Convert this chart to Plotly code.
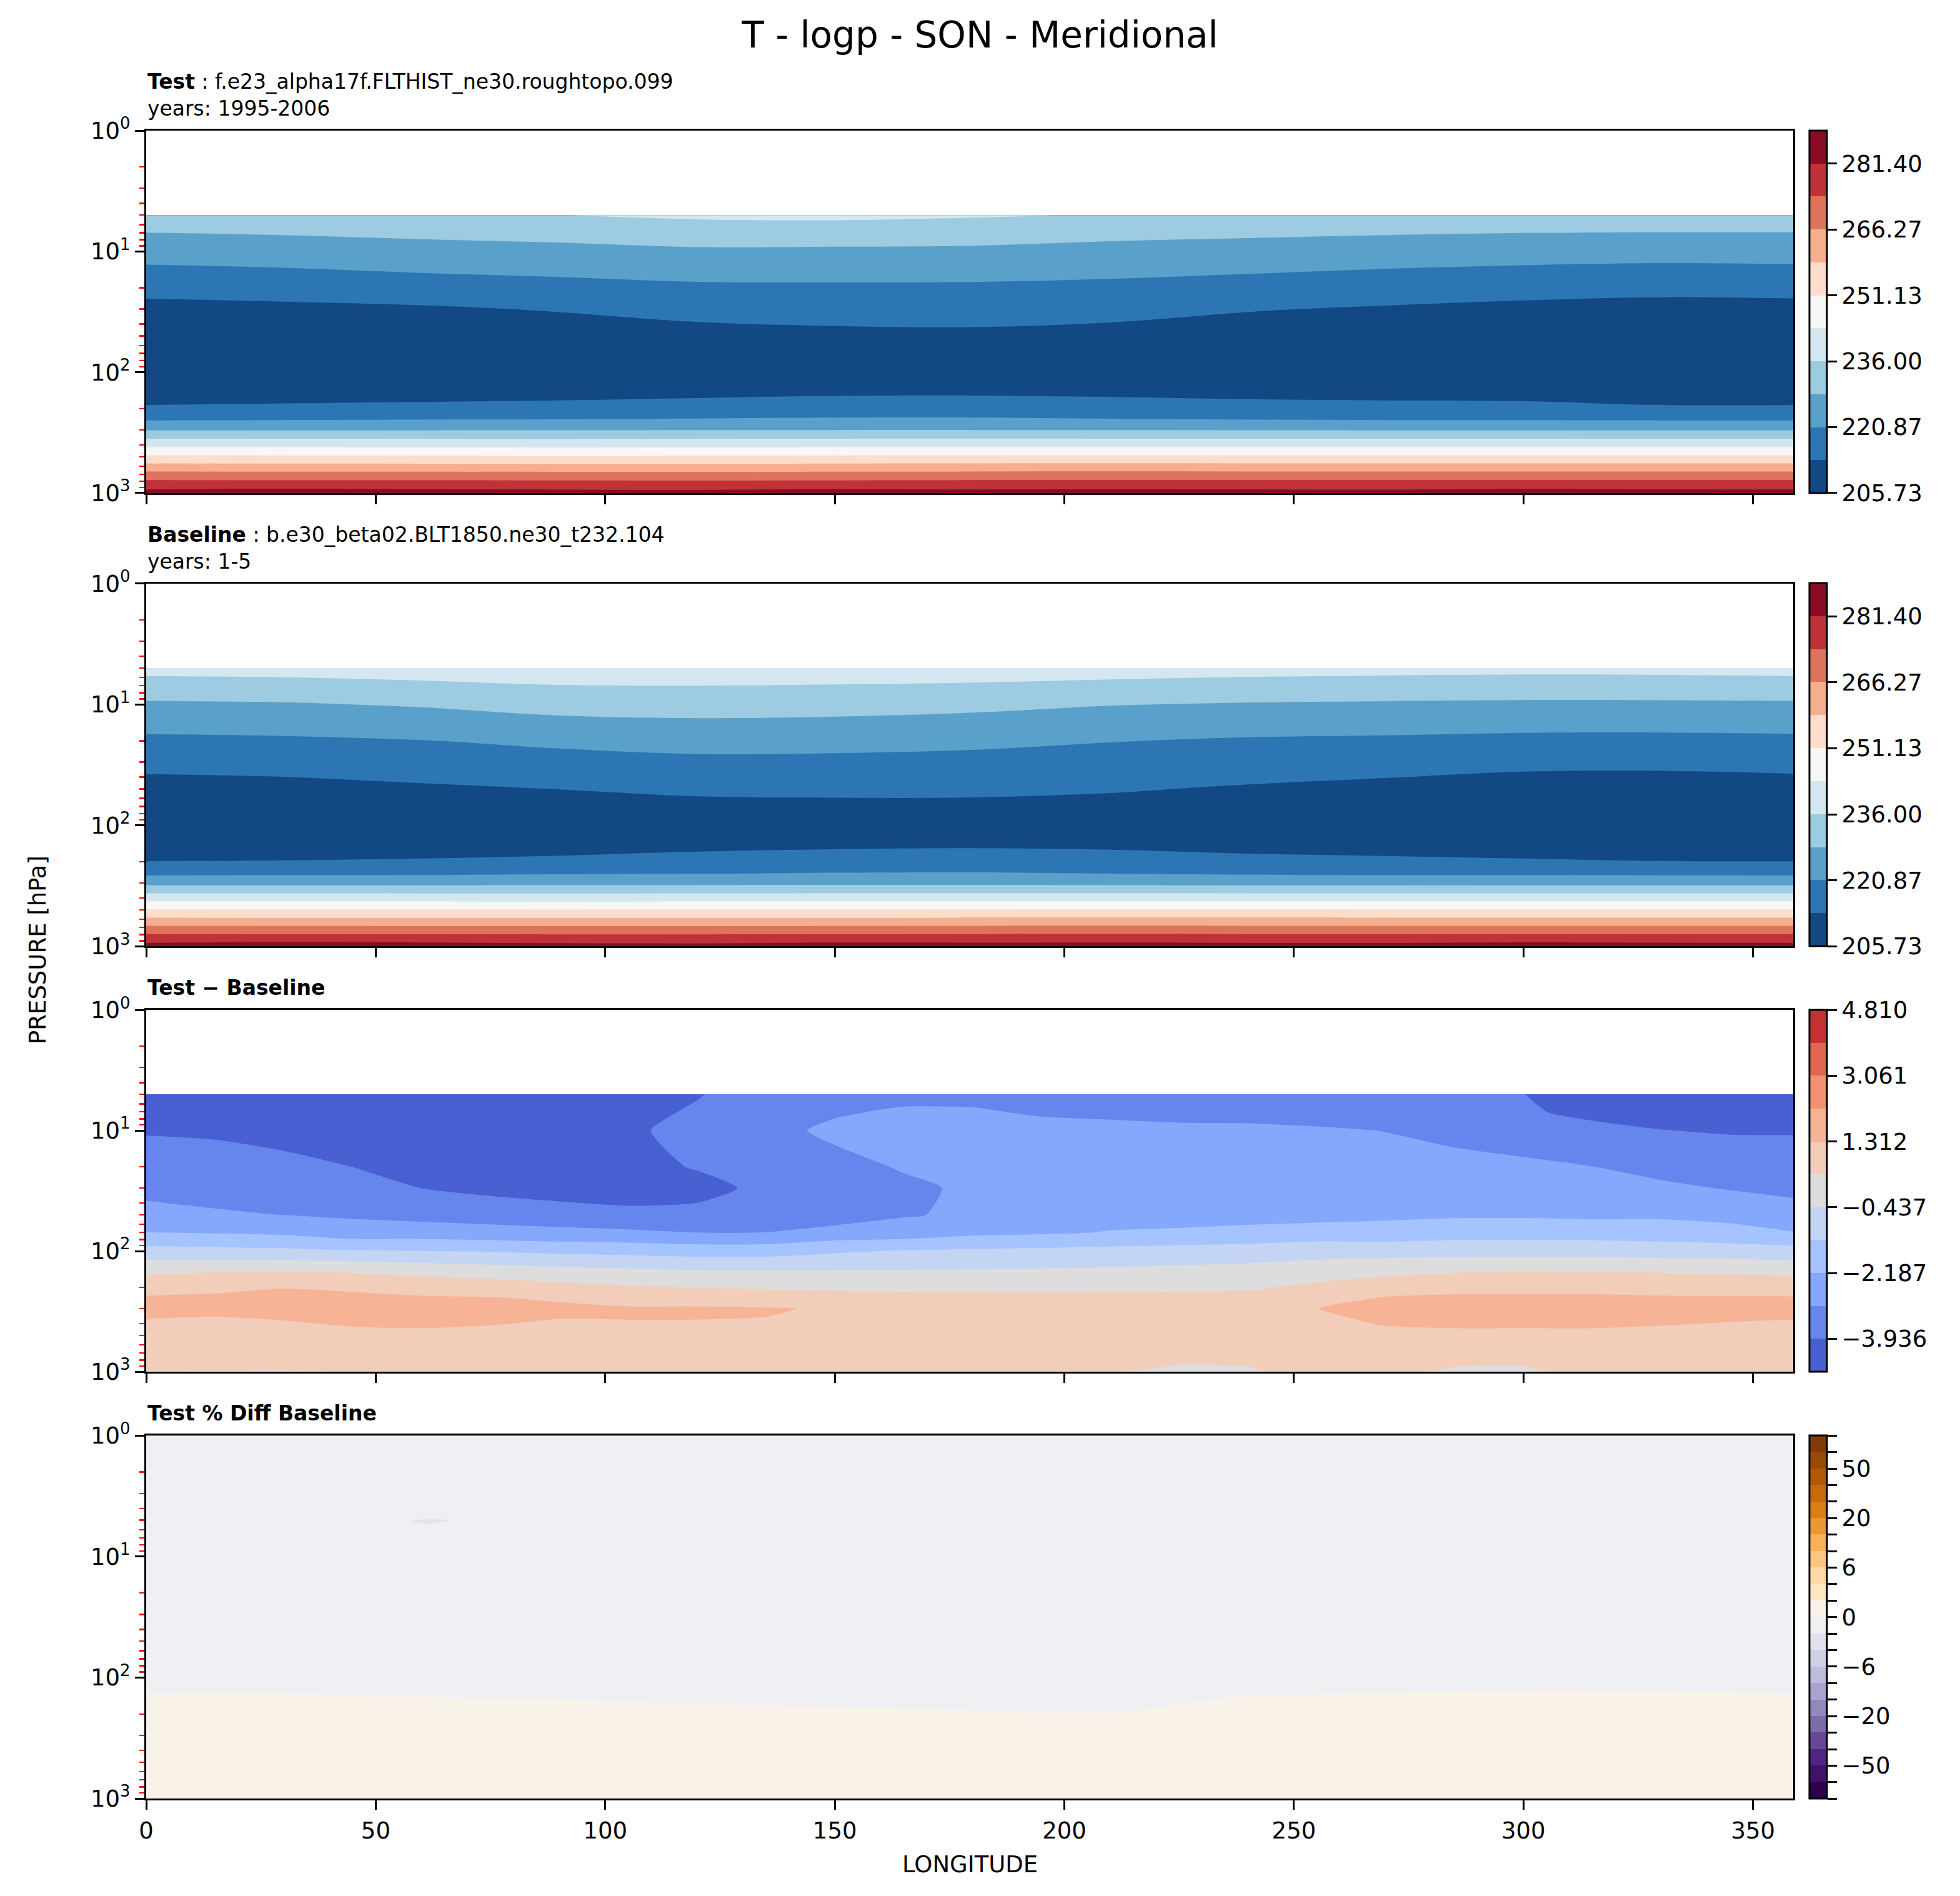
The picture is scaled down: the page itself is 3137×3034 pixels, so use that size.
import numpy as np
import plotly.graph_objects as go

# pressure levels [hPa] and longitudes [deg E]
plev = [5, 7, 10, 20, 30, 50, 70, 100, 150, 200, 250, 300, 400, 500, 600, 700, 850, 925, 1000]
pct_plev = [1] + plev
lon = [0, 30, 60, 90, 120, 150, 180, 210, 240, 270, 300, 330, 358.75]
lon_diff = [0, 15, 30, 45, 60, 75, 90, 105, 120, 135, 150, 165, 180,
            195, 210, 225, 240, 255, 270, 285, 300, 315, 330, 345, 358.75]

# Test T [K], one row per pressure level
test_T = [
    [232.7, 233.1, 233.8, 235.9, 237.2, 237.5, 236.75, 235.5, 233.5, 233.1, 232.9, 232.8, 232.8],
    [228.4, 229.0, 229.9, 230.6, 232.2, 232.4, 231.7, 230.2, 229.6, 229.0, 228.5, 228.3, 228.3],
    [223.8, 224.6, 225.7, 226.5, 227.3, 227.1, 227.0, 226.3, 225.5, 224.6, 223.9, 223.5, 223.7],
    [215.7, 216.3, 217.5, 218.5, 219.6, 219.8, 219.7, 219.1, 218.0, 216.8, 215.9, 215.3, 215.6],
    [211.0, 211.7, 212.4, 213.8, 215.7, 216.2, 216.2, 215.5, 213.7, 212.6, 211.5, 210.8, 211.0],
    [210.0, 210.3, 210.6, 209.5, 210.7, 211.6, 211.9, 211.1, 210.0, 210.4, 210.2, 209.8, 210.0],
    [209.3, 209.5, 209.7, 208.8, 209.0, 209.3, 209.5, 209.3, 209.0, 209.4, 209.4, 209.1, 209.3],
    [209.0, 209.0, 209.2, 208.6, 208.3, 208.5, 208.6, 208.6, 208.5, 208.9, 209.0, 208.8, 209.0],
    [210.1, 210.8, 211.1, 211.7, 212.2, 212.6, 212.7, 212.4, 211.9, 211.7, 211.5, 210.1, 210.1],
    [214.3, 214.6, 215.0, 215.2, 215.8, 217.0, 217.2, 216.3, 215.6, 215.2, 215.0, 214.3, 214.3],
    [220.8, 221.0, 221.2, 221.4, 221.8, 222.0, 222.0, 221.6, 221.2, 221.0, 221.0, 220.8, 220.8],
    [227.9, 228.0, 228.0, 228.1, 228.2, 228.3, 228.3, 228.2, 228.1, 228.0, 228.0, 227.9, 227.9],
    [241.6, 241.6, 241.4, 241.2, 241.3, 241.5, 241.6, 241.6, 241.6, 241.6, 241.6, 241.6, 241.6],
    [252.4, 252.3, 252.2, 252.0, 252.1, 252.3, 252.4, 252.5, 252.5, 252.4, 252.4, 252.4, 252.4],
    [261.3, 261.2, 261.1, 261.0, 261.0, 261.2, 261.4, 261.5, 261.4, 261.3, 261.3, 261.3, 261.3],
    [268.9, 268.8, 268.8, 268.6, 268.5, 268.7, 268.8, 269.0, 268.9, 268.9, 268.9, 268.9, 268.9],
    [277.6, 277.5, 277.5, 277.3, 277.2, 277.4, 277.6, 277.7, 277.6, 277.6, 277.7, 277.6, 277.6],
    [281.2, 281.6, 281.3, 281.1, 281.0, 281.3, 281.2, 281.3, 281.2, 281.1, 281.4, 281.2, 281.2],
    [283.0, 283.4, 283.2, 282.8, 282.6, 283.0, 283.0, 283.2, 283.1, 282.9, 283.3, 283.1, 283.0],
]

# Baseline T [K]
base_T = [
    [238.6, 238.9, 239.7, 240.4, 240.2, 240.0, 239.9, 239.3, 238.7, 238.3, 238.0, 238.1, 238.5],
    [233.0, 233.4, 234.5, 235.8, 236.0, 235.7, 235.2, 234.2, 233.4, 232.9, 232.5, 232.7, 233.0],
    [227.4, 227.8, 229.1, 231.1, 231.5, 231.1, 230.2, 228.7, 227.9, 227.5, 227.2, 227.2, 227.4],
    [219.4, 219.8, 220.7, 222.4, 223.4, 223.2, 222.4, 221.1, 220.1, 219.7, 219.1, 219.0, 219.3],
    [215.5, 216.0, 217.0, 218.2, 219.3, 219.2, 218.8, 217.9, 216.8, 216.1, 215.1, 215.0, 215.4],
    [210.6, 211.1, 212.3, 213.4, 214.6, 214.8, 214.6, 213.9, 212.6, 211.4, 210.0, 209.8, 210.5],
    [209.2, 209.5, 210.0, 210.3, 211.5, 211.8, 211.9, 211.3, 210.4, 209.8, 209.0, 208.9, 209.2],
    [208.5, 208.7, 208.8, 209.0, 209.2, 209.4, 209.4, 209.2, 209.0, 208.8, 208.5, 208.5, 208.5],
    [210.0, 210.0, 211.0, 211.8, 212.2, 212.5, 212.8, 212.5, 211.8, 211.5, 211.0, 210.0, 210.0],
    [213.4, 213.6, 213.9, 214.3, 215.5, 217.0, 217.4, 216.3, 215.0, 214.4, 213.9, 213.45, 213.4],
    [219.4, 219.7, 219.8, 220.3, 220.7, 221.1, 221.2, 220.8, 220.1, 219.8, 219.7, 219.5, 219.4],
    [226.3, 226.3, 226.4, 226.5, 226.6, 226.7, 226.7, 226.6, 226.4, 226.3, 226.3, 226.3, 226.3],
    [240.4, 240.4, 240.3, 240.2, 240.3, 240.4, 240.5, 240.5, 240.5, 240.4, 240.4, 240.4, 240.4],
    [251.7, 251.6, 251.5, 251.4, 251.5, 251.6, 251.7, 251.8, 251.8, 251.7, 251.7, 251.7, 251.7],
    [260.2, 260.1, 260.0, 259.9, 260.0, 260.1, 260.3, 260.4, 260.3, 260.2, 260.2, 260.2, 260.2],
    [267.8, 267.7, 267.6, 267.5, 267.5, 267.6, 267.8, 267.9, 267.8, 267.8, 267.8, 267.8, 267.8],
    [277.1, 277.0, 277.0, 276.8, 276.8, 277.0, 277.2, 277.2, 277.1, 277.1, 277.2, 277.1, 277.1],
    [281.0, 281.5, 281.2, 281.0, 280.9, 281.2, 281.1, 281.2, 281.0, 281.0, 281.3, 281.1, 281.0],
    [283.0, 283.4, 283.1, 282.7, 282.5, 282.9, 283.0, 283.1, 283.0, 282.9, 283.3, 283.0, 283.0],
]

# Test - Baseline [K], one list per longitude (top to bottom in pressure)
diff_cols = [
    [-4.35, -4.35, -4.0, -3.52, -3.25, -2.85, -2.18, -0.99, 0.33, 0.97, 1.45, 1.55, 1.2, 1.0, 0.95, 0.9, 0.85, 0.75, 0.35],
    [-4.4, -4.4, -4.1, -3.45, -3.32, -2.98, -2.245, -1.06, 0.44, 1.11, 1.5, 1.55, 1.1, 0.95, 0.9, 0.85, 0.8, 0.65, 0.3],
    [-4.45, -4.45, -4.3, -3.65, -3.42, -3.07, -2.355, -1.13, 0.48, 1.28, 1.6, 1.65, 1.22, 0.95, 0.9, 0.85, 0.8, 0.6, 0.3],
    [-4.5, -4.5, -4.4, -3.94, -3.6, -3.17, -2.7, -1.23, 0.41, 1.16, 1.55, 1.7, 1.4, 1.05, 0.95, 0.9, 0.85, 0.7, 0.5],
    [-4.6, -4.55, -4.45, -4.15, -3.94, -3.32, -2.66, -1.31, 0.25, 0.97, 1.45, 1.7, 1.45, 1.1, 1.0, 0.95, 0.9, 0.8, 0.6],
    [-4.55, -4.5, -4.45, -4.25, -4.15, -3.42, -2.76, -1.36, 0.08, 0.89, 1.4, 1.6, 1.35, 1.05, 1.0, 0.95, 0.9, 0.85, 0.55],
    [-4.45, -4.4, -4.35, -4.35, -4.35, -3.52, -2.86, -1.49, -0.07, 0.71, 1.22, 1.5, 1.22, 1.0, 0.95, 0.95, 1.0, 0.9, 0.7],
    [-4.3, -4.15, -4.05, -4.2, -4.4, -3.7, -2.93, -1.58, -0.19, 0.53, 0.99, 1.4, 1.28, 1.05, 1.0, 0.95, 0.95, 0.9, 0.7],
    [-3.98, -3.85, -3.7, -3.88, -4.2, -3.72, -3.07, -1.69, -0.29, 0.42, 0.97, 1.42, 1.27, 1.05, 1.0, 0.95, 0.9, 0.85, 0.6],
    [-3.6, -3.5, -3.3, -3.6, -3.75, -3.5, -3.06, -1.67, -0.32, 0.35, 0.95, 1.36, 1.27, 1.05, 1.0, 0.95, 0.9, 0.85, 0.6],
    [-3.4, -3.15, -2.9, -3.3, -3.4, -3.5, -2.76, -1.43, -0.33, 0.28, 0.8, 1.25, 1.1, 1.0, 0.95, 0.9, 0.85, 0.8, 0.6],
    [-3.3, -2.96, -2.75, -3.0, -3.2, -3.12, -2.7, -1.25, -0.33, 0.24, 0.75, 1.05, 1.0, 0.95, 0.9, 0.9, 0.85, 0.8, 0.6],
    [-3.3, -2.98, -2.75, -2.7, -2.95, -2.94, -2.4, -1.17, -0.32, 0.23, 0.72, 1.0, 0.95, 0.9, 0.9, 0.9, 0.85, 0.75, 0.55],
    [-3.35, -3.15, -2.8, -2.65, -2.65, -2.6, -2.3, -1.11, -0.29, 0.22, 0.72, 0.95, 0.9, 0.88, 0.88, 0.85, 0.8, 0.7, 0.5],
    [-3.4, -3.25, -2.8, -2.6, -2.55, -2.45, -2.15, -1.04, -0.24, 0.23, 0.72, 0.92, 0.88, 0.85, 0.85, 0.8, 0.7, 0.6, 0.45],
    [-3.45, -3.35, -2.85, -2.6, -2.5, -2.5, -2.08, -0.97, -0.17, 0.27, 0.72, 0.9, 0.85, 0.82, 0.8, 0.75, 0.45, 0.38, 0.3],
    [-3.5, -3.4, -2.85, -2.55, -2.45, -2.5, -1.95, -0.9, -0.1, 0.33, 0.75, 0.95, 0.9, 0.85, 0.8, 0.75, 0.5, 0.42, 0.42],
    [-3.55, -3.45, -2.95, -2.6, -2.45, -2.5, -1.79, -0.8, 0.08, 0.62, 1.0, 1.3, 1.1, 0.95, 0.9, 0.85, 0.8, 0.7, 0.5],
    [-3.6, -3.5, -3.08, -2.65, -2.5, -2.35, -1.85, -0.77, 0.25, 0.91, 1.42, 1.6, 1.36, 1.1, 1.0, 0.95, 0.95, 0.85, 0.55],
    [-3.75, -3.65, -3.3, -2.79, -2.6, -2.3, -1.69, -0.77, 0.42, 1.03, 1.5, 1.65, 1.45, 1.1, 1.0, 0.9, 0.5, 0.42, 0.35],
    [-3.93, -3.85, -3.55, -2.88, -2.65, -2.3, -1.68, -0.77, 0.5, 1.06, 1.5, 1.65, 1.45, 1.1, 1.0, 0.9, 0.48, 0.4, 0.35],
    [-4.15, -4.1, -3.75, -3.05, -2.75, -2.35, -1.7, -0.78, 0.48, 1.05, 1.5, 1.65, 1.45, 1.1, 1.0, 0.95, 0.9, 0.8, 0.6],
    [-4.3, -4.2, -3.92, -3.31, -2.91, -2.33, -1.75, -0.85, 0.42, 0.99, 1.45, 1.6, 1.35, 1.1, 1.0, 0.95, 0.95, 0.85, 0.6],
    [-4.35, -4.3, -4.0, -3.43, -3.11, -2.47, -1.88, -0.9, 0.36, 0.95, 1.45, 1.55, 1.28, 1.05, 1.0, 0.95, 0.9, 0.8, 0.5],
    [-4.35, -4.35, -4.0, -3.5, -3.22, -2.8, -2.15, -0.97, 0.3, 0.95, 1.42, 1.55, 1.22, 1.0, 0.95, 0.9, 0.85, 0.75, 0.45],
]

# Test % Diff Baseline, one row per level of pct_plev
pct_diff = [
    [-1.0, -1.0, -1.0, -1.0, -1.0, -1.0, -1.0, -1.0, -1.0, -1.0, -1.0, -1.0, -1.0],
    [-1.85, -1.85, -2.01, -1.96, -1.9, -1.85, -1.85, -1.85, -1.85, -1.85, -1.88, -1.9, -1.9],
    [-1.8, -1.82, -1.96, -1.9, -1.8, -1.75, -1.75, -1.75, -1.75, -1.78, -1.8, -1.82, -1.8],
    [-1.7, -1.7, -1.75, -1.75, -1.7, -1.65, -1.65, -1.65, -1.65, -1.68, -1.7, -1.7, -1.7],
    [-1.55, -1.55, -1.6, -1.6, -1.55, -1.5, -1.5, -1.5, -1.5, -1.52, -1.55, -1.55, -1.55],
    [-1.45, -1.45, -1.45, -1.45, -1.45, -1.4, -1.4, -1.4, -1.4, -1.42, -1.45, -1.45, -1.45],
    [-1.3, -1.3, -1.3, -1.3, -1.3, -1.25, -1.25, -1.25, -1.25, -1.28, -1.3, -1.3, -1.3],
    [-1.0, -1.0, -1.0, -1.0, -1.0, -1.0, -1.0, -1.0, -1.0, -1.0, -1.0, -1.0, -1.0],
    [-0.5, -0.5, -0.5, -0.5, -0.5, -0.5, -0.5, -0.5, -0.5, -0.5, -0.5, -0.5, -0.5],
    [0.157, 0.167, 0.036, -0.01, -0.1, -0.15, -0.2, -0.25, 0.064, 0.193, 0.308, 0.279, 0.138],
    [0.4, 0.4, 0.35, 0.3, 0.19, 0.126, 0.063, 0.02, 0.35, 0.45, 0.5, 0.5, 0.42],
    [0.55, 0.55, 0.5, 0.5, 0.45, 0.4, 0.35, 0.35, 0.5, 0.55, 0.6, 0.6, 0.55],
    [0.6, 0.6, 0.6, 0.55, 0.55, 0.5, 0.45, 0.45, 0.55, 0.6, 0.65, 0.65, 0.6],
    [0.5, 0.5, 0.5, 0.5, 0.5, 0.45, 0.4, 0.4, 0.45, 0.5, 0.55, 0.55, 0.5],
    [0.4, 0.4, 0.4, 0.4, 0.4, 0.38, 0.35, 0.35, 0.38, 0.4, 0.42, 0.42, 0.4],
    [0.36, 0.36, 0.36, 0.36, 0.36, 0.35, 0.34, 0.33, 0.34, 0.36, 0.37, 0.37, 0.36],
    [0.34, 0.34, 0.34, 0.34, 0.34, 0.33, 0.33, 0.32, 0.32, 0.34, 0.35, 0.35, 0.34],
    [0.3, 0.3, 0.31, 0.32, 0.32, 0.31, 0.3, 0.28, 0.25, 0.31, 0.25, 0.32, 0.3],
    [0.27, 0.25, 0.28, 0.3, 0.29, 0.28, 0.27, 0.24, 0.18, 0.28, 0.18, 0.29, 0.27],
    [0.15, 0.12, 0.2, 0.24, 0.22, 0.2, 0.2, 0.18, 0.14, 0.2, 0.14, 0.22, 0.18],
]

# contour levels and colorbar labels
t_start, t_step, t_end = 205.73, 7.567, 288.967
t_ticks = [205.73, 220.87, 236.00, 251.13, 266.27, 281.40]
d_start, d_step, d_end = -4.81, 0.874545, 4.81
d_ticks = [-3.936, -2.187, -0.437, 1.312, 3.061, 4.810]
pct_levels = [-100, -75, -50, -40, -30, -20, -10, -8, -6, -4, -2, 0,
              2, 4, 6, 8, 10, 20, 30, 40, 50, 75, 100]
pct_labels = [-50, -20, -6, 0, 6, 20, 50]

rdbu_r = ['#124883', '#2d76b4', '#59a1ca', '#9dcbe1', '#d4e7f1', '#f7f7f7',
          '#fcddcb', '#f6af8e', '#de735b', '#bf3237', '#890b24']
coolwarm = ['#4860d1', '#6686ed', '#85a8fc', '#a5c3ff', '#c3d5f3', '#dddddd',
            '#f1cdba', '#f7b396', '#f29172', '#e16651', '#c53233']
puor_r = ['#2d004b', '#401368', '#522585', '#674897', '#7c6ca9', '#9388bb',
          '#aba3cd', '#bfbbda', '#d1d1e6', '#e1e2ee', '#f0f0f4', '#f9f2e8',
          '#fce7c1', '#fed8a6', '#fdc57f', '#f9b058', '#eb9732', '#dc7e13',
          '#c66a0b', '#b15706', '#984907', '#7f3b08']


def fill_scale(colors):
    # contour fill samples the scale at j/(nbands+1)
    n = len(colors) + 1
    scale = [[0.0, colors[0]]]
    for j, c in enumerate(colors, start=1):
        scale.append([j / n, c])
    scale.append([1.0, colors[-1]])
    return scale


def bar_scale(colors):
    # hard-edged bands for the colorbar
    n = len(colors)
    scale = []
    for k, c in enumerate(colors):
        scale.append([k / n, c])
        scale.append([(k + 1) / n, c])
    return scale


def minus(v, fmt):
    return (fmt % v).replace('-', '\u2212')


W, H = 3137, 3034
ml, mr, mt, mb = 234, 267, 209, 156
domains = [[0.7827, 1.0], [0.5110, 0.7285], [0.2559, 0.4728], [0.0, 0.2175]]

pct_index = np.interp(np.array(pct_diff), pct_levels, np.arange(len(pct_levels)))

panels = [
    dict(z=test_T, x=lon, y=plev, start=t_start, end=t_end, size=t_step, cs=rdbu_r,
         tv=t_ticks, tt=['%.2f' % v for v in t_ticks], smooth=1.0),
    dict(z=base_T, x=lon, y=plev, start=t_start, end=t_end, size=t_step, cs=rdbu_r,
         tv=t_ticks, tt=['%.2f' % v for v in t_ticks], smooth=1.0),
    dict(z=np.array(diff_cols).T, x=lon_diff, y=plev, start=d_start, end=d_end,
         size=d_step, cs=coolwarm, tv=d_ticks,
         tt=[minus(v, '%.3f') for v in d_ticks], smooth=0.6),
    dict(z=pct_index, x=lon, y=pct_plev, start=0, end=22, size=1, cs=puor_r,
         tv=list(range(23)),
         tt=[minus(v, '%d') if v in pct_labels else '' for v in pct_levels], smooth=1.0),
]

fig = go.Figure()
for i, p in enumerate(panels):
    d0, d1 = domains[i]
    xa, ya = 'x%d' % (i + 1), 'y%d' % (i + 1)
    fig.add_trace(go.Contour(
        x=p['x'], y=p['y'], z=p['z'], xaxis=xa, yaxis=ya,
        autocontour=False,
        contours=dict(start=p['start'], end=p['end'], size=p['size'],
                      coloring='fill', showlines=False),
        line=dict(width=0, smoothing=p['smooth']),
        colorscale=fill_scale(p['cs']),
        showscale=False, hoverinfo='skip',
    ))
    lo = p['start']
    hi = p['start'] + p['size'] * len(p['cs'])
    fig.add_trace(go.Scatter(
        x=[p['x'][0]], y=[p['y'][-1]], xaxis=xa, yaxis=ya, mode='markers',
        hoverinfo='skip', showlegend=False,
        marker=dict(size=1, opacity=0, color=[lo], cmin=lo - 1e-4, cmax=hi + 1e-4,
                    colorscale=bar_scale(p['cs']), showscale=True,
                    colorbar=dict(
                        x=1 + 26 / (W - ml - mr), xanchor='left', xpad=0, ypad=0,
                        y=(d0 + d1) / 2, yanchor='middle', len=d1 - d0,
                        lenmode='fraction', thickness=28, thicknessmode='pixels',
                        outlinewidth=3, outlinecolor='black',
                        ticks='outside', ticklen=15, tickwidth=3, tickcolor='black',
                        tickmode='array', tickvals=p['tv'], ticktext=p['tt'],
                        tickfont=dict(size=37, family='DejaVu Sans', color='black'),
                    )),
    ))

minor_vals = [m * 10 ** e for e in range(3) for m in range(2, 10)]
axis_line = dict(showline=True, linecolor='black', linewidth=3, mirror=True,
                 showgrid=False, zeroline=False, ticks='outside',
                 ticklen=15, tickwidth=3, tickcolor='black')
layout_axes = {}
for i in range(4):
    n = '' if i == 0 else str(i + 1)
    layout_axes['xaxis' + n] = dict(
        axis_line, domain=[0, 1], anchor='y' + n, range=[0, 358.75],
        tick0=0, dtick=50, showticklabels=(i == 3), ticklabelstandoff=2)
    layout_axes['yaxis' + n] = dict(
        axis_line, domain=domains[i], anchor='x' + n, type='log', range=[3, 0],
        tickmode='array', tickvals=[1, 10, 100, 1000],
        ticktext=['10<sup>0</sup>', '10<sup>1</sup>', '10<sup>2</sup>', '10<sup>3</sup>'],
        minor=dict(tickmode='array', tickvals=minor_vals, ticks='outside',
                   ticklen=8, tickwidth=2.5, tickcolor='red'))

sub_font = dict(size=33, family='DejaVu Sans', color='black')
titles = [
    '<b>Test</b> : f.e23_alpha17f.FLTHIST_ne30.roughtopo.099<br>years: 1995-2006',
    '<b>Baseline</b> : b.e30_beta02.BLT1850.ne30_t232.104<br>years: 1-5',
    '<b>Test \u2212 Baseline</b>',
    '<b>Test % Diff Baseline</b>',
]
annotations = []
for i, t in enumerate(titles):
    annotations.append(dict(text=t, x=0, y=domains[i][1], xref='paper', yref='paper',
                            xanchor='left', yanchor='bottom', yshift=14, align='left',
                            showarrow=False, font=sub_font))
annotations.append(dict(text='PRESSURE [hPa]', x=-(234 - 60) / (W - ml - mr), y=0.5088,
                        xref='paper', yref='paper', textangle=-90, showarrow=False,
                        xanchor='center', yanchor='middle',
                        font=dict(size=37, family='DejaVu Sans', color='black')))
annotations.append(dict(text='LONGITUDE', x=0.5, y=-0.0395, xref='paper', yref='paper',
                        xanchor='center', yanchor='middle', showarrow=False,
                        font=dict(size=37, family='DejaVu Sans', color='black')))

fig.update_layout(
    width=W, height=H,
    margin=dict(l=ml, r=mr, t=mt, b=mb, autoexpand=False),
    paper_bgcolor='white', plot_bgcolor='white',
    font=dict(family='DejaVu Sans', size=37, color='black'),
    title=dict(text='T - logp - SON - Meridional', x=0.5, xref='container',
               y=1 - 56 / H, yref='container', yanchor='middle', xanchor='center',
               font=dict(size=58, family='DejaVu Sans', color='black')),
    showlegend=False,
    annotations=annotations,
    **layout_axes,
)

# page without body margin so the figure sits at the window origin
fig.write_html('out.html',
               config={'displayModeBar': False, 'staticPlot': True},
               post_script="document.body.style.margin='0px';"
                           "document.body.style.overflow='hidden';")
